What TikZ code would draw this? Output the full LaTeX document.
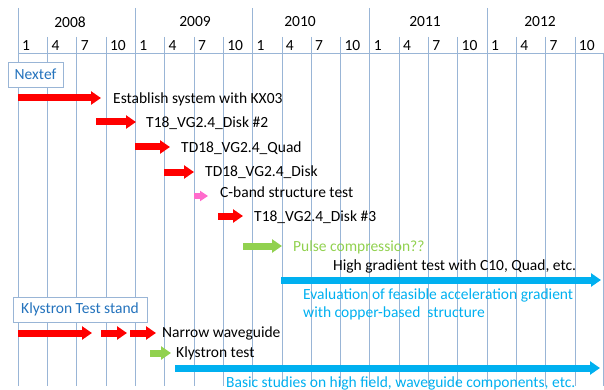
\documentclass[tikz,border=0pt]{standalone}
\usepackage{fontspec}
\setmainfont{Carlito}
\usetikzlibrary{arrows.meta,positioning}
\definecolor{gridline}{rgb}{0.60, 0.71, 0.84}
\definecolor{boxtext}{rgb}{0.14, 0.45, 0.74}
\definecolor{barred}{rgb}{1.0, 0.0, 0.0}
\definecolor{barpink}{rgb}{1.0, 0.42, 0.80}
\definecolor{bargreen}{rgb}{0.57, 0.82, 0.31}
\definecolor{barblue}{rgb}{0.0, 0.69, 0.94}

\tikzset{
  bar/.style={line width=7pt, -{Triangle[length=10pt,width=13pt]}},
  smallbar/.style={line width=5.5pt, -{Triangle[length=8pt,width=10pt]}},
  label/.style={anchor=west},
  groupbox/.style={draw=gridline, fill=white, text=boxtext, minimum height=25pt, inner xsep=5pt},
}

\begin{document}
\begin{tikzpicture}[x=1pt, y=-1pt, every node/.style={font=\fontsize{15.5}{18.5}\selectfont, inner sep=0pt}]
\useasboundingbox (0,0) rectangle (604,390);
% grid
\foreach \k in {0,...,19}
  \draw[gridline, thin] (18+29.3*\k,37) -- (18+29.3*\k,386);
\foreach \k in {0,4,...,16}
  \draw[gridline, thin] (18+29.3*\k,8) -- (18+29.3*\k,37);
\draw[gridline, thin] (603.5,53) -- (603.5,386);
\draw[gridline, thin] (18,53) -- (604,53);
% years
\foreach \yr/\xx in {2008/70, 2009/195, 2010/300, 2011/425, 2012/540}
  \node (y\yr) at (\xx,22) {\yr};
% months
\foreach \k in {0,...,19} {
  \pgfmathtruncatemacro{\m}{3*mod(\k,4)+1}
  \node[label] (m\k) at (18+29.3*\k+4,46) {\m};
}

%% Nextef
\node[groupbox, minimum width=55pt] (nextef) at (35.5,74.5) {Nextef};
% KX03
\coordinate (a1s) at (18,98);  \coordinate (a1e) at (101,98);
\draw[bar, barred] (a1s) -- (a1e);
\node[label] (kx03) at (113,99) {Establish system with KX03};
% disk 2
\coordinate (a2s) at (96,122);  \coordinate (a2e) at (136,122);
\draw[bar, barred] (a2s) -- (a2e);
\node[label] (disk2) at (146,123) {T18\_VG2.4\_Disk \#2};
% quad
\coordinate (a3s) at (135,147);  \coordinate (a3e) at (170,147);
\draw[bar, barred] (a3s) -- (a3e);
\node[label] (quad) at (181,148) {TD18\_VG2.4\_Quad};
% TD18 disk
\coordinate (a4s) at (164,172);  \coordinate (a4e) at (194,172);
\draw[bar, barred] (a4s) -- (a4e);
\node[label] (tddisk) at (205,172) {TD18\_VG2.4\_Disk};
% C-band
\coordinate (a5s) at (194,196);  \coordinate (a5e) at (208,196);
\draw[smallbar, barpink] (a5s) -- (a5e);
\node[label] (cband) at (220,192) {C-band structure test};
% disk 3
\coordinate (a6s) at (218,216);  \coordinate (a6e) at (243,216);
\draw[bar, barred] (a6s) -- (a6e);
\node[label] (disk3) at (254,217) {T18\_VG2.4\_Disk \#3};
% pulse compression
\coordinate (a7s) at (243,246);  \coordinate (a7e) at (282,246);
\draw[bar, bargreen] (a7s) -- (a7e);
\node[label, text=bargreen] (pulse) at (293,247) {Pulse compression??};
% high gradient
\node[label] (hgt) at (333,266) {High gradient test with C10, Quad, etc.};
\coordinate (a8s) at (281,280);  \coordinate (a8e) at (601,280);
\draw[bar, barblue] (a8s) -- (a8e);
\node[label, text=barblue, align=left] (evalgrad) at (303,304.5)
  {Evaluation of feasible acceleration gradient\\with copper-based\ \ structure};

%% Klystron test stand
\node[groupbox, minimum width=134pt] (kts) at (80,309.5) {Klystron Test stand};
% narrow waveguide
\coordinate (b1s) at (18,333);  \coordinate (b1e) at (92,333);
\coordinate (b2s) at (101,333); \coordinate (b2e) at (127,333);
\coordinate (b3s) at (130,333); \coordinate (b3e) at (156,333);
\draw[bar, barred] (b1s) -- (b1e);
\draw[bar, barred] (b2s) -- (b2e);
\draw[bar, barred] (b3s) -- (b3e);
\node[label] (narrow) at (162,333) {Narrow waveguide};
% klystron test
\coordinate (b4s) at (150,353);  \coordinate (b4e) at (171,353);
\draw[bar, bargreen] (b4s) -- (b4e);
\node[label] (kltest) at (176,353) {Klystron test};
% basic studies
\coordinate (b5s) at (175,368);  \coordinate (b5e) at (600,368);
\draw[bar, barblue] (b5s) -- (b5e);
\node[label, text=barblue] (basic) at (226,383) {Basic studies on high field, waveguide components, etc.};
\end{tikzpicture}
\end{document}
